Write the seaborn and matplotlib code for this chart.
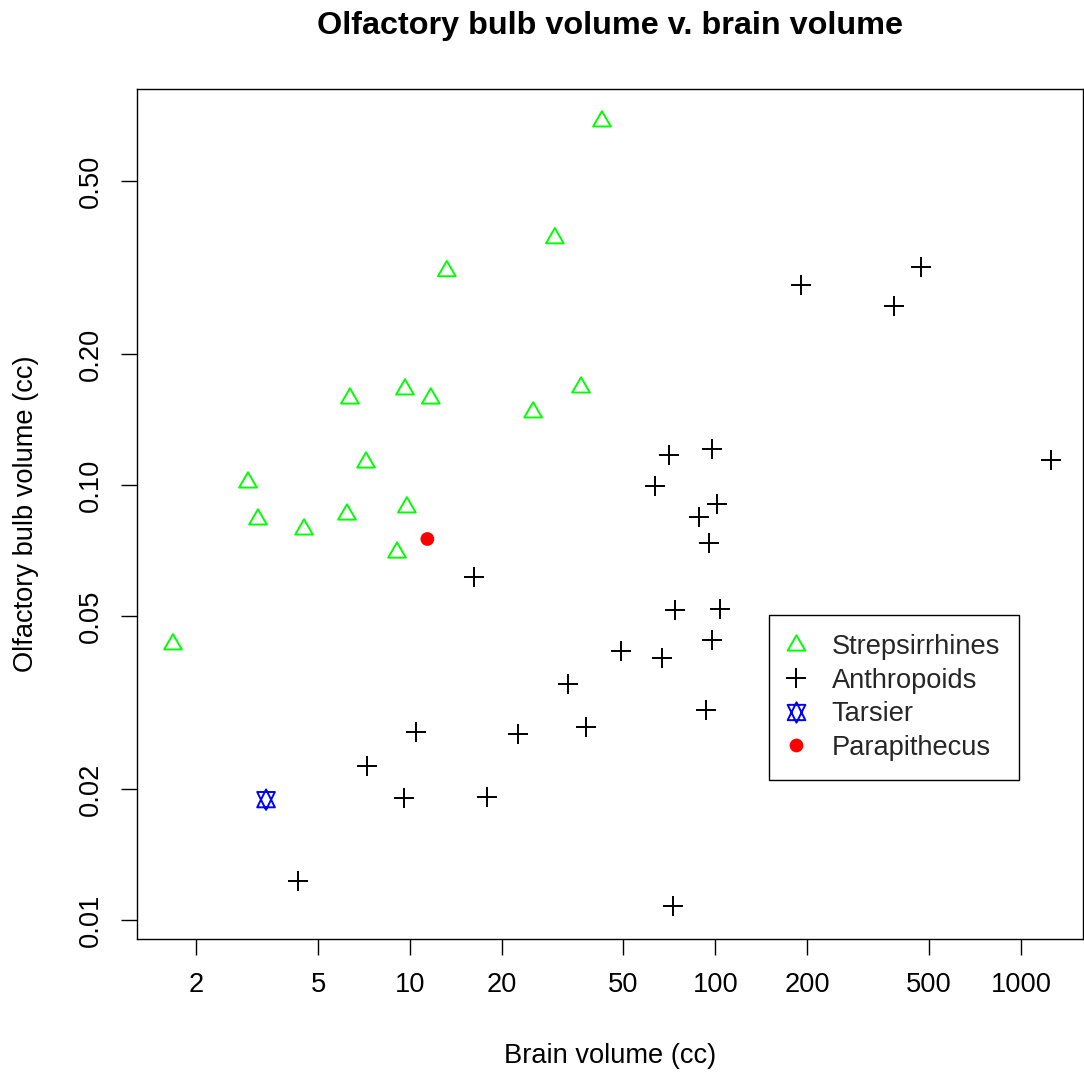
import matplotlib
matplotlib.use("Agg")
import matplotlib.pyplot as plt
import seaborn as sns
import pandas as pd
from matplotlib.lines import Line2D
from matplotlib.path import Path
from matplotlib.markers import MarkerStyle
from matplotlib.ticker import NullLocator, FixedLocator, FixedFormatter

# ---- data (brain volume cc, olfactory bulb volume cc) ----
strep_brain = [42.5, 29.8, 13.2, 36.3, 9.63, 6.36, 11.7, 25.3, 7.18, 2.95,
               3.18, 9.77, 4.50, 6.22, 9.07, 1.676]
strep_bulb = [0.685, 0.369, 0.310, 0.1675, 0.1658, 0.158, 0.158, 0.1468, 0.1126, 0.1013,
              0.0833, 0.0888, 0.0790, 0.0855, 0.0699, 0.0430]

anth_brain = [1254, 470.7, 384, 190.5, 97.4, 70.4, 63.4, 88.3, 101.1, 95.2,
              16.2, 73.7, 103.4, 97.4, 49.1, 66.8, 32.9, 93.1, 37.7, 22.6,
              10.5, 7.23, 9.56, 17.9, 4.30, 72.6]
anth_bulb = [0.1142, 0.317, 0.258, 0.288, 0.121, 0.1172, 0.0995, 0.0844, 0.0904, 0.0736,
             0.0614, 0.0516, 0.0519, 0.0440, 0.0415, 0.0400, 0.0349, 0.0304, 0.0278, 0.0268,
             0.0271, 0.0226, 0.0191, 0.0192, 0.0123, 0.01077]

tarsier_brain = [3.38]
tarsier_bulb = [0.0189]

parap_brain = [11.4]
parap_bulb = [0.0751]

group_names = ["Strepsirrhines", "Anthropoids", "Tarsier", "Parapithecus"]
x_ticks = [2, 5, 10, 20, 50, 100, 200, 500, 1000]
x_ticklabels = ["2", "5", "10", "20", "50", "100", "200", "500", "1000"]
y_ticks = [0.01, 0.02, 0.05, 0.10, 0.20, 0.50]
y_ticklabels = ["0.01", "0.02", "0.05", "0.10", "0.20", "0.50"]

df = pd.concat([
    pd.DataFrame({"brain": strep_brain, "bulb": strep_bulb, "group": group_names[0]}),
    pd.DataFrame({"brain": anth_brain, "bulb": anth_bulb, "group": group_names[1]}),
    pd.DataFrame({"brain": tarsier_brain, "bulb": tarsier_bulb, "group": group_names[2]}),
    pd.DataFrame({"brain": parap_brain, "bulb": parap_bulb, "group": group_names[3]}),
], ignore_index=True)

sns.set_theme(style="white")
plt.rcParams["font.family"] = ["Liberation Sans", "DejaVu Sans"]

# R-like markers
tri_path = Path([(0, 1.555), (1.347, -0.778), (-1.347, -0.778), (0, 1.555)],
                [Path.MOVETO, Path.LINETO, Path.LINETO, Path.CLOSEPOLY])
up = Path([(0, 1.555), (1.347, -1.1665), (-1.347, -1.1665), (0, 1.555)],
          [Path.MOVETO, Path.LINETO, Path.LINETO, Path.CLOSEPOLY])
down = Path([(0, -1.555), (1.347, 1.1665), (-1.347, 1.1665), (0, -1.555)],
            [Path.MOVETO, Path.LINETO, Path.LINETO, Path.CLOSEPOLY])
star_path = Path.make_compound_path(up, down)
tri_marker = MarkerStyle(tri_path)
star_marker = MarkerStyle(star_path)

GREEN = "#00FF00"
BLUE = "#0000FF"
RED = "#FF0000"

W, H = 1084, 1074
fig = plt.figure(figsize=(W / 100, H / 100), dpi=100)
ax = fig.add_axes([137 / W, (H - 939) / H, 946 / W, 850 / H])

d = df[df.group == group_names[0]]
sns.scatterplot(data=d, x="brain", y="bulb", ax=ax, marker=tri_marker, s=216,
                color=GREEN, facecolor="none", edgecolor=GREEN, linewidth=1.4, legend=False)
d = df[df.group == group_names[1]]
sns.scatterplot(data=d, x="brain", y="bulb", ax=ax, marker="+", s=188,
                color="black", linewidth=1.4, legend=False)
d = df[df.group == group_names[2]]
sns.scatterplot(data=d, x="brain", y="bulb", ax=ax, marker=star_marker, s=216,
                color=BLUE, facecolor="none", edgecolor=BLUE, linewidth=1.4, legend=False)
d = df[df.group == group_names[3]]
sns.scatterplot(data=d, x="brain", y="bulb", ax=ax, marker="o", s=98,
                color=RED, edgecolor="none", linewidth=0, legend=False)

ax.set_xscale("log")
ax.set_yscale("log")
ax.set_xlim(1.278, 1596)
ax.set_ylim(0.00904, 0.813)

ax.xaxis.set_major_locator(FixedLocator(x_ticks))
ax.xaxis.set_major_formatter(FixedFormatter(x_ticklabels))
ax.yaxis.set_major_locator(FixedLocator(y_ticks))
ax.yaxis.set_major_formatter(FixedFormatter(y_ticklabels))
ax.xaxis.set_minor_locator(NullLocator())
ax.yaxis.set_minor_locator(NullLocator())

ax.tick_params(axis="both", which="major", direction="out", length=11.5, width=1.0,
               color="black", labelcolor="black", labelsize=19.6, pad=12.2,
               bottom=True, left=True)
for lab in ax.get_yticklabels():
    lab.set_rotation(90)
    lab.set_va("center")

for sp in ax.spines.values():
    sp.set_visible(True)
    sp.set_color("black")
    sp.set_linewidth(1.0)
ax.grid(False)

ax.set_xlabel("Brain volume (cc)", fontsize=19.6, color="black", va="baseline")
ax.xaxis.set_label_coords(0.5, (939 - 1063) / 850)
ax.set_ylabel("Olfactory bulb volume (cc)", fontsize=19.6, color="black",
              va="baseline", ha="center", rotation=90, rotation_mode="anchor")
ax.yaxis.set_label_coords((33 - 137) / 946, 0.5)

ax.set_title("Olfactory bulb volume v. brain volume", fontsize=23.3, fontweight="bold",
             color="black", y=1 + (89 - 34) / 850, va="baseline", pad=0)

handles = [
    Line2D([], [], ls="", marker=tri_marker, markersize=14.7, mfc="none", mec=GREEN, mew=1.4),
    Line2D([], [], ls="", marker="+", markersize=13.7, mec="black", mew=1.4),
    Line2D([], [], ls="", marker=star_marker, markersize=14.7, mfc="none", mec=BLUE, mew=1.4),
    Line2D([], [], ls="", marker="o", markersize=9.9, mfc=RED, mec=RED, mew=0),
]
leg = ax.legend(handles, group_names, loc="upper left",
                bbox_to_anchor=(769 / W, 1 - 615 / H), bbox_transform=fig.transFigure,
                fontsize=19.6, frameon=True, fancybox=False, shadow=False, framealpha=1,
                borderaxespad=0, borderpad=0.7, labelspacing=0.28, handlelength=0.55,
                handletextpad=1.05, edgecolor="black")
leg.get_frame().set_linewidth(1.0)

fig.savefig("out.png", dpi=100, facecolor="white")
